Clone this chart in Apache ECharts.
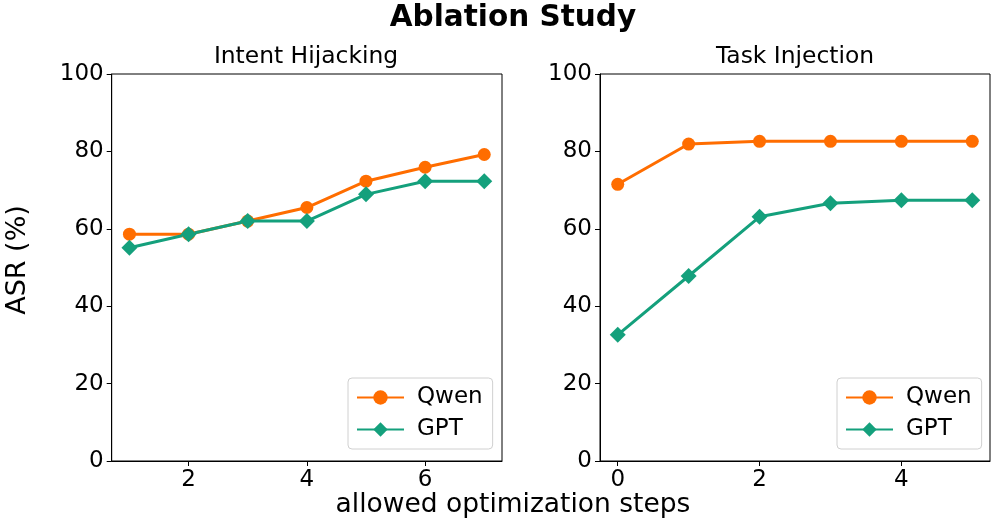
<!DOCTYPE html>
<html>
<head>
<meta charset="utf-8">
<script src="https://cdn.jsdelivr.net/npm/echarts@6/dist/echarts.min.js"></script>
<style>html,body{margin:0;padding:0;background:#fff;}#c{width:996px;height:525px;}</style>
</head>
<body>
<div id="c"></div>
<script>
const seriesNames = ['Qwen', 'GPT'];
const leftSteps = [1, 2, 3, 4, 5, 6, 7];
const leftQwen = [58.6, 58.6, 62.0, 65.5, 72.3, 75.9, 79.2];
const leftGPT = [55.1, 58.6, 62.0, 62.0, 68.9, 72.3, 72.3];
const rightSteps = [0, 1, 2, 3, 4, 5];
const rightQwen = [71.5, 81.9, 82.6, 82.6, 82.6, 82.6];
const rightGPT = [32.6, 47.8, 63.1, 66.6, 67.4, 67.4];
const leftTicks = [2, 4, 6];
const rightTicks = [0, 2, 4];
const yTicks = [0, 20, 40, 60, 80, 100];

const ORANGE = '#ff6d00';
const TEAL = '#14a07c';
const FONT = 'DejaVu Sans';

function zip(xs, ys) { return xs.map((x, i) => [x, ys[i]]); }

function xAxis(idx, min, max, ticks) {
  return {
    type: 'value', gridIndex: idx, min: min, max: max,
    axisLine: { show: true, onZero: false, lineStyle: { color: '#000', width: 1 } },
    axisTick: { show: true, length: 5, customValues: ticks, lineStyle: { color: '#000' } },
    axisLabel: { customValues: ticks, color: '#000', fontSize: 23, fontFamily: FONT, margin: 8 },
    splitLine: { show: false }
  };
}
function yAxis(idx) {
  return {
    type: 'value', gridIndex: idx, min: 0, max: 100, interval: 20,
    axisLine: { show: true, onZero: false, lineStyle: { color: '#000', width: 1 } },
    axisTick: { show: true, length: 5, customValues: yTicks, lineStyle: { color: '#000' } },
    axisLabel: { customValues: yTicks, color: '#000', fontSize: 23, fontFamily: FONT, margin: 8 },
    splitLine: { show: false }
  };
}
function line(name, xi, data, color, symbol, size) {
  return {
    name: name, type: 'line', xAxisIndex: xi, yAxisIndex: xi, data: data,
    symbol: symbol, symbolSize: size, showSymbol: true,
    lineStyle: { color: color, width: 3 },
    itemStyle: { color: color },
    emphasis: { disabled: true }, animation: false
  };
}
function legend(left) {
  return {
    data: seriesNames, orient: 'vertical', left: left, top: 378,
    backgroundColor: '#fff', borderColor: '#d0d0d0', borderWidth: 1, borderRadius: 4,
    padding: [8, 10, 8, 8], itemGap: 9, itemWidth: 47, itemHeight: 18,
    textStyle: { fontSize: 23, fontFamily: FONT, color: '#000', padding: [0, 0, 0, 8] },
    selectedMode: false
  };
}

const chart = echarts.init(document.getElementById('c'));
chart.setOption({
  backgroundColor: '#fff',
  animation: false,
  grid: [
    { left: 111.7, right: 494, top: 74, bottom: 64, show: true, borderColor: '#000', borderWidth: 1, backgroundColor: 'transparent' },
    { left: 600, right: 6, top: 74, bottom: 64, show: true, borderColor: '#000', borderWidth: 1, backgroundColor: 'transparent' }
  ],
  xAxis: [xAxis(0, 0.7, 7.3, leftTicks), xAxis(1, -0.25, 5.25, rightTicks)],
  yAxis: [yAxis(0), yAxis(1)],
  legend: [legend(348), legend(837)],
  series: [
    line('Qwen', 0, zip(leftSteps, leftQwen), ORANGE, 'circle', 13),
    line('GPT', 0, zip(leftSteps, leftGPT), TEAL, 'diamond', 16),
    line('Qwen', 1, zip(rightSteps, rightQwen), ORANGE, 'circle', 13),
    line('GPT', 1, zip(rightSteps, rightGPT), TEAL, 'diamond', 16)
  ],
  graphic: [
    { type: 'text', x: 513, y: 18, style: { text: 'Ablation Study', fontSize: 29.5, fontWeight: 'bold', fontFamily: FONT, fill: '#000', align: 'center', verticalAlign: 'middle' } },
    { type: 'text', x: 306, y: 57, style: { text: 'Intent Hijacking', fontSize: 23.4, fontFamily: FONT, fill: '#000', align: 'center', verticalAlign: 'middle' } },
    { type: 'text', x: 795, y: 57, style: { text: 'Task Injection', fontSize: 23.4, fontFamily: FONT, fill: '#000', align: 'center', verticalAlign: 'middle' } },
    { type: 'text', x: 18, y: 260, rotation: Math.PI / 2, style: { text: 'ASR (%)', fontSize: 27, fontFamily: FONT, fill: '#000', align: 'center', verticalAlign: 'middle' } },
    { type: 'text', x: 513, y: 505, style: { text: 'allowed optimization steps', fontSize: 26.5, fontFamily: FONT, fill: '#000', align: 'center', verticalAlign: 'middle' } }
  ]
});
</script>
</body>
</html>
